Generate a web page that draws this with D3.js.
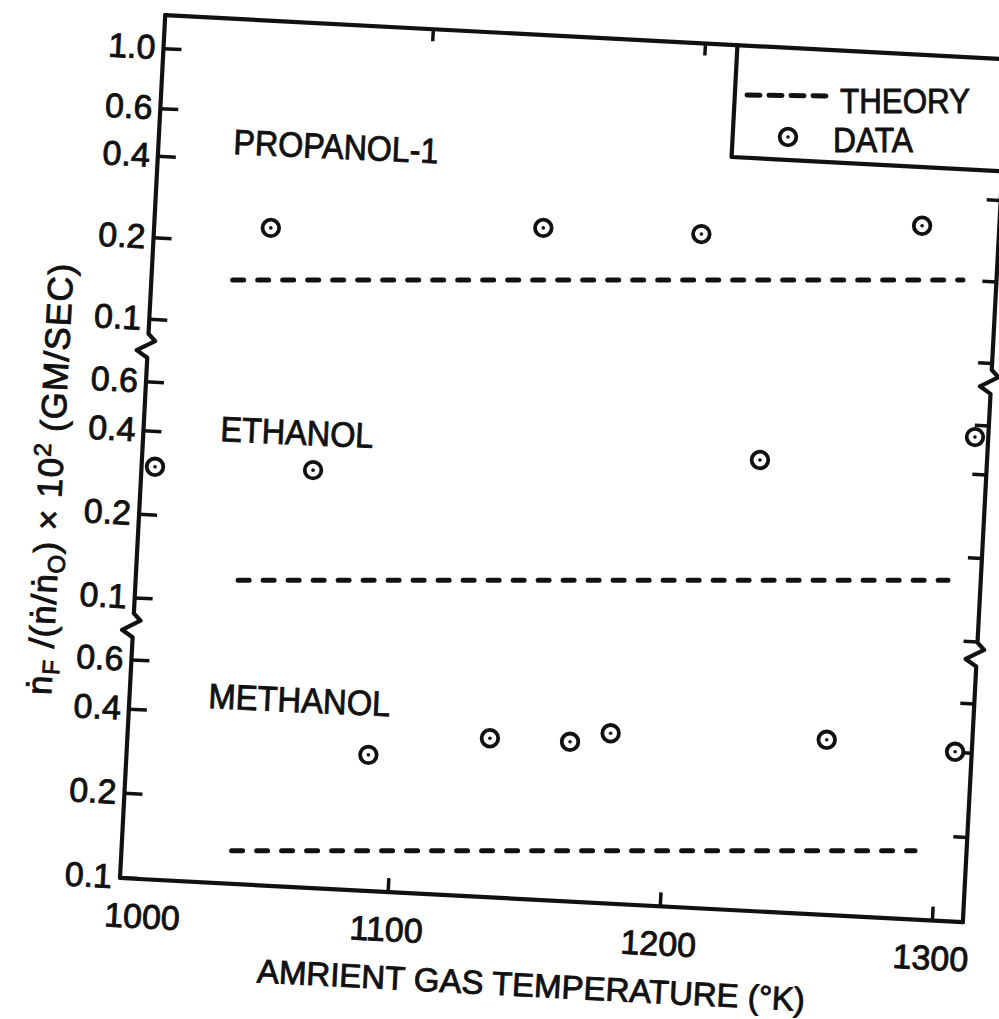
<!DOCTYPE html>
<html><head><meta charset="utf-8">
<script src="https://cdn.jsdelivr.net/npm/d3@7"></script>
<style>
body{margin:0;background:#fff;}
svg text{font-family:"Liberation Sans","Arial","DejaVu Sans",sans-serif;fill:#111;stroke:#111;stroke-width:0.9px;}
</style></head><body>
<svg id="chart" width="999" height="1019"></svg>
<script>
// ---------------- data ----------------
const propanolT = [1057, 1157, 1215, 1296];
const propanolV = [0.215, 0.215, 0.204, 0.219];
const propanolTheoryT = [1043, 1311];
const propanolTheoryV = [0.138, 0.138];

const ethanolT = [1014.5, 1072.5, 1236.5, 1315.4];
const ethanolV = [0.294, 0.286, 0.311, 0.376];
const ethanolTheoryT = [1045, 1305.5];
const ethanolTheoryV = [0.115, 0.115];

const methanolT = [1092.8, 1137.4, 1166.8, 1181.7, 1261.0, 1308.1];
const methanolV = [0.273, 0.313, 0.304, 0.326, 0.309, 0.280];
const methanolTheoryT = [1042.6, 1293.4];
const methanolTheoryV = [0.124, 0.124];

const xTicks = [1000, 1100, 1200, 1300];
const yTicksTop = [0.1, 0.2, 0.4, 0.6, 1.0];
const yTicksMid = [0.1, 0.2, 0.4, 0.6];
const yTicksBot = [0.1, 0.2, 0.4, 0.6];
const rTicksTop = [0.1, 0.2, 0.4];
const rTicksMid = [0.1, 0.2, 0.4, 0.6];
const rTicksBot = [0.2, 0.4, 0.6];
const topTicks = [1100, 1200];
const seriesNames = ["PROPANOL-1", "ETHANOL", "METHANOL"];
const legendNames = ["THEORY", "DATA"];

// ---------------- scales ----------------
const x = d3.scaleLinear().domain([1000, 1300]).range([115.5, 933]);
const yTop = d3.scaleLog().domain([0.1, 1]).range([318, 47]);
const yMid = d3.scaleLog().domain([0.1, 1]).range([597, 319]);
const yBot = d3.scaleLog().domain([0.1, 1]).range([877, 597]);

const INK = "#111";
const svg = d3.select("#chart");
svg.append("rect").attr("width", 999).attr("height", 1019).attr("fill", "#fff");

// frame (scanned figure frame is tilted ~3 deg)
const L = 120, R = 964, T = 14, B = 878;
const frame = svg.append("g").attr("transform", `rotate(3,${L},${B})`);

function zig(xx, yy) {
  return `V${yy - 12} L${xx + 7},${yy - 5} L${xx - 11},${yy + 5} L${xx},${yy + 12}`;
}
const lineStyle = s => s.attr("fill", "none").attr("stroke", INK)
  .attr("stroke-width", 4.2).attr("stroke-linejoin", "round").attr("stroke-linecap", "round");

frame.append("path").attr("d", `M${L},${T} ${zig(L, 345)} ${zig(L, 625)} V${B} H${R}`).call(lineStyle);
frame.append("path").attr("d", `M${L},${T} H${R} ${zig(R, 337)} ${zig(R, 610)} V${B}`).call(lineStyle);
// legend box
frame.append("path").attr("d", `M693,${T} V126 H${R}`).call(lineStyle);

function styleAxis(g, fs) {
  g.select(".domain").remove();
  g.selectAll(".tick line").attr("stroke", INK).attr("stroke-width", 3.5);
  g.selectAll(".tick text").attr("fill", INK).attr("font-size", fs)
    .attr("font-family", '"Liberation Sans","Arial",sans-serif');
  g.attr("font-family", null).attr("font-size", null);
}
const fmt = d3.format(".1f");
[[yTop, yTicksTop], [yMid, yTicksMid], [yBot, yTicksBot]].forEach(([s, tv]) => {
  frame.append("g").attr("transform", `translate(${L},0)`)
    .call(d3.axisLeft(s).tickValues(tv).tickSizeInner(-18).tickSizeOuter(0).tickPadding(8).tickFormat(fmt))
    .call(g => styleAxis(g, 34));
});
[[yTop, rTicksTop], [yMid, rTicksMid], [yBot, rTicksBot]].forEach(([s, tv]) => {
  frame.append("g").attr("transform", `translate(${R},0)`)
    .call(d3.axisRight(s).tickValues(tv).tickSizeInner(-14).tickSizeOuter(0).tickFormat(""))
    .call(g => styleAxis(g, 34));
});
frame.append("g").attr("transform", `translate(0,${B})`)
  .call(d3.axisBottom(x).tickValues(xTicks).tickSizeInner(-14).tickSizeOuter(0).tickPadding(25).tickFormat(d3.format("d")))
  .call(g => {
    styleAxis(g, 34);
    g.selectAll(".tick").filter(d => d === 1000).select("line").remove();
    g.selectAll(".tick").filter(d => d === 1000).select("text").attr("dx", 28);
  });
frame.append("g").attr("transform", `translate(0,${T})`)
  .call(d3.axisTop(x).tickValues(topTicks).tickSizeInner(-12).tickSizeOuter(0).tickFormat(""))
  .call(g => styleAxis(g, 34));

// axis titles
frame.append("text").attr("x", 536).attr("y", 975).attr("text-anchor", "middle")
  .attr("font-size", 33).text("AMRIENT GAS TEMPERATURE (°K)");

const yt = frame.append("text").attr("transform", "translate(41.5,483) rotate(-90)")
  .attr("text-anchor", "middle").attr("font-size", 35).attr("letter-spacing", 1);
yt.append("tspan").text("ṅ");
yt.append("tspan").attr("font-size", 24).attr("dy", 7).text("F");
yt.append("tspan").attr("dy", -7).text(" /(ṅ/ṅ");
yt.append("tspan").attr("font-size", 24).attr("dy", 7).text("O");
yt.append("tspan").attr("dy", -7).text(") × 10");
yt.append("tspan").attr("font-size", 24).attr("dy", -13).text("2");
yt.append("tspan").attr("dy", 13).text(" (GM/SEC)");

// ---------------- data layer ----------------
const data = svg.append("g");
const groups = [
  {ys: yTop, t: propanolT, v: propanolV, tt: propanolTheoryT, tv: propanolTheoryV},
  {ys: yMid, t: ethanolT, v: ethanolV, tt: ethanolTheoryT, tv: ethanolTheoryV},
  {ys: yBot, t: methanolT, v: methanolV, tt: methanolTheoryT, tv: methanolTheoryV}
];
groups.forEach(gp => {
  const line = d3.line().x(d => x(d[0])).y(d => gp.ys(d[1]));
  data.append("path").datum(d3.zip(gp.tt, gp.tv)).attr("d", line)
    .attr("fill", "none").attr("stroke", INK).attr("stroke-width", 5)
    .attr("stroke-dasharray", "11,14").attr("stroke-linecap", "round");
  const pts = d3.zip(gp.t, gp.v);
  data.selectAll(null).data(pts).join("circle")
    .attr("cx", d => x(d[0])).attr("cy", d => gp.ys(d[1])).attr("r", 8.3)
    .attr("fill", "#fff").attr("stroke", INK).attr("stroke-width", 3.8);
  data.selectAll(null).data(pts).join("circle")
    .attr("cx", d => x(d[0])).attr("cy", d => gp.ys(d[1])).attr("r", 1.8).attr("fill", INK);
});

// series labels (lettering slightly tilted like the scan)
const labelPos = [[233, 154, 205], [220, 441, 153], [208, 708, 182]];
seriesNames.forEach((n, i) => {
  const [lx, ly, w] = labelPos[i];
  data.append("text").attr("x", lx).attr("y", ly).attr("font-size", 35)
    .attr("textLength", w).attr("lengthAdjust", "spacingAndGlyphs")
    .attr("transform", `rotate(2.6,${lx},${ly})`).text(n);
});

// legend
const lg = svg.append("g");
lg.append("line").attr("x1", 747).attr("x2", 831).attr("y1", 95).attr("y2", 96)
  .attr("stroke", INK).attr("stroke-width", 5).attr("stroke-dasharray", "13,9").attr("stroke-linecap", "round");
lg.append("text").attr("x", 840).attr("y", 113).attr("font-size", 35)
  .attr("textLength", 130).attr("lengthAdjust", "spacingAndGlyphs").text(legendNames[0]);
lg.append("circle").attr("cx", 788).attr("cy", 137).attr("r", 8.3)
  .attr("fill", "#fff").attr("stroke", INK).attr("stroke-width", 3.8);
lg.append("circle").attr("cx", 788).attr("cy", 137).attr("r", 1.8).attr("fill", INK);
lg.append("text").attr("x", 833).attr("y", 152).attr("font-size", 35)
  .attr("textLength", 80).attr("lengthAdjust", "spacingAndGlyphs").text(legendNames[1]);
</script>
</body></html>
